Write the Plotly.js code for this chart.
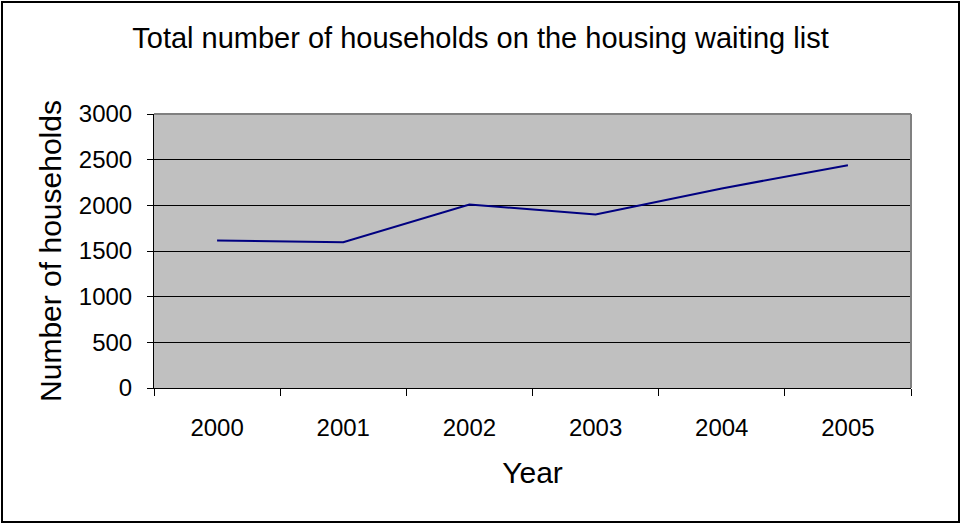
<!DOCTYPE html>
<html>
<head>
<meta charset="utf-8">
<script src="https://cdn.plot.ly/plotly-3.0.1.min.js"></script>
<style>
html,body{margin:0;padding:0;background:#fff;}
#wrap{position:relative;width:961px;height:523px;}
#chart{width:961px;height:523px;}
#frame{position:absolute;left:1px;top:1px;width:955px;height:518px;border:2px solid #000;pointer-events:none;}
</style>
</head>
<body>
<div id="wrap"><div id="chart"></div><div id="frame"></div></div>
<script>
const years = ['2000','2001','2002','2003','2004','2005'];
const households = [1615, 1595, 2010, 1900, 2185, 2440];
const yTicks = [0, 500, 1000, 1500, 2000, 2500, 3000];

const trace = {
  x: years, y: households, type: 'scatter', mode: 'lines',
  line: {color: '#000080', width: 2}, hoverinfo: 'x+y'
};
const font = {family: 'Liberation Sans, Arial, sans-serif', color: '#000'};
const layout = {
  width: 961, height: 523,
  margin: {l: 154, r: 50, t: 114, b: 135},
  paper_bgcolor: '#fff', plot_bgcolor: '#C0C0C0',
  showlegend: false,
  font: font,
  title: {text: 'Total number of households on the housing waiting list',
          font: {family: font.family, size: 29, color: '#000'},
          x: 0.5, xanchor: 'center', y: 0.928, yanchor: 'middle'},
  xaxis: {
    type: 'category', range: [-0.5, 5.5], tickson: 'boundaries',
    ticks: 'outside', ticklen: 7, tickcolor: '#000', tickwidth: 1,
    ticklabelstandoff: 18,
    showline: true, linecolor: '#000', linewidth: 1,
    showgrid: false, zeroline: false,
    tickfont: {family: font.family, size: 24, color: '#000'},
    title: {text: 'Year', font: {family: font.family, size: 30, color: '#000'}, standoff: 22}
  },
  yaxis: {
    range: [0, 3000], tickvals: yTicks, ticktext: yTicks.map(String),
    ticks: 'outside', ticklen: 6, tickcolor: '#000', tickwidth: 1,
    ticklabelstandoff: 10,
    showline: true, linecolor: '#000', linewidth: 1,
    showgrid: true, gridcolor: '#000', gridwidth: 1, zeroline: false,
    tickfont: {family: font.family, size: 24, color: '#000'},
    title: {text: 'Number of households', font: {family: font.family, size: 30, color: '#000'}, standoff: 8}
  },
  shapes: [
    {type: 'line', xref: 'paper', yref: 'paper', x0: 0, x1: 1, y0: 1, y1: 1, line: {color: '#808080', width: 2}},
    {type: 'line', xref: 'paper', yref: 'paper', x0: 1, x1: 1, y0: 0, y1: 1, line: {color: '#808080', width: 2}}
  ]
};
Plotly.newPlot('chart', [trace], layout, {displayModeBar: false, staticPlot: true});
</script>
</body>
</html>
